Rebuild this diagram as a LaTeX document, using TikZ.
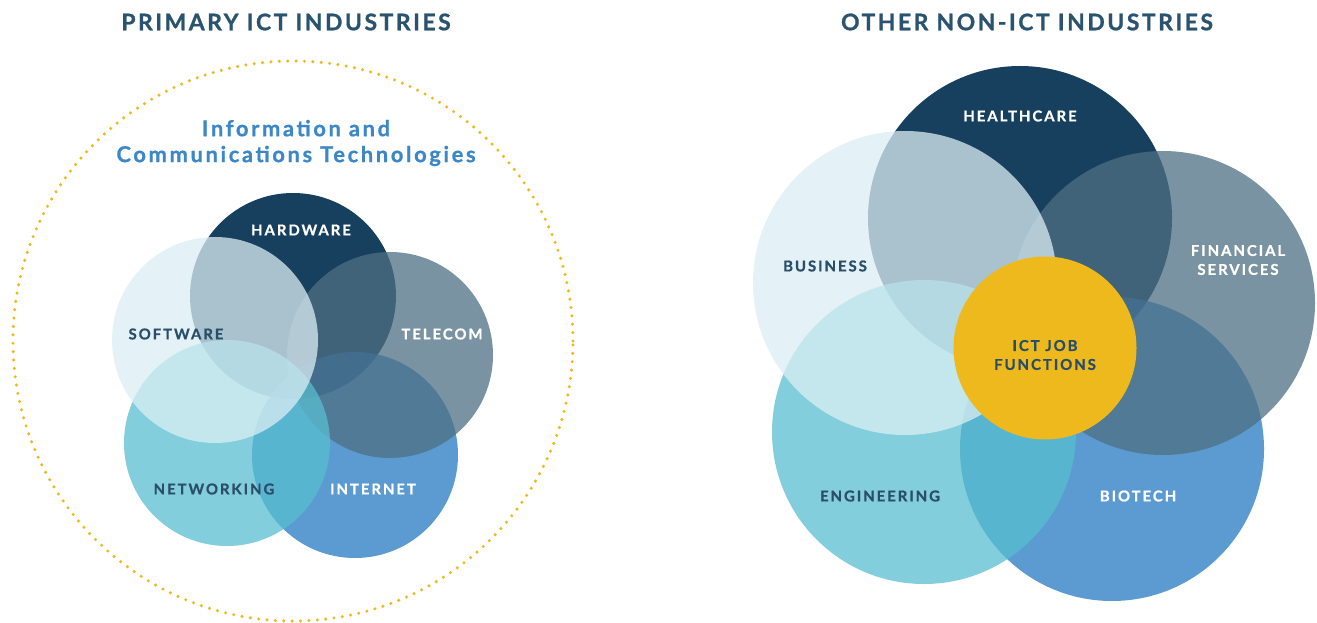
\documentclass[tikz,border=0pt]{standalone}
\usepackage{fontspec}
\setmainfont{Lato}
\newfontfamily\spaced[LetterSpace=13,FakeBold=0.8]{Lato}
\newfontfamily\widesp[LetterSpace=11,FakeBold=1]{Lato}
\newfontfamily\bluesp[LetterSpace=12,FakeBold=0.8]{Lato}
\definecolor{navy}{HTML}{17405E}
\definecolor{inetc}{HTML}{247AC3}
\definecolor{telc}{HTML}{4E6F83}
\definecolor{netc}{HTML}{58BED0}
\definecolor{lightc}{HTML}{DBEEF4}
\definecolor{goldc}{HTML}{EDB91C}
\definecolor{titlec}{HTML}{2A5370}
\definecolor{darklbl}{HTML}{2A4E69}
\definecolor{bluetxt}{HTML}{3B87C8}
\begin{document}
\begin{tikzpicture}[x=1bp,y=-1bp,
  venn/.style={circle, inner sep=0pt, minimum size=#1, fill opacity=0.75, draw=none},
  ttl/.style={font=\widesp\bfseries\fontsize{23}{26}\selectfont, text=titlec, inner sep=0pt},
  lblw/.style={font=\spaced\bfseries\fontsize{15}{19}\selectfont, text=white, inner sep=0pt, align=center},
  lbld/.style={font=\spaced\bfseries\fontsize{15}{19}\selectfont, text=darklbl, inner sep=0pt, align=center},
  blt/.style={font=\bluesp\bfseries\fontsize{22}{26}\selectfont, text=bluetxt, inner sep=0pt, align=center},
  ring/.style={draw=goldc, line width=3.4bp, line cap=round, dash pattern=on 0pt off 8.4bp}]
\useasboundingbox (0,0) rectangle (1317,623);
% titles
\node[ttl] (t1) at (286,22) {PRIMARY ICT INDUSTRIES};
\node[ttl] (t2) at (1027,22) {OTHER NON-ICT INDUSTRIES};
% left
\node[circle, minimum size=560bp, inner sep=0pt, ring] (ictring) at (293,341) {};
\node[blt] (ict) at (296,143) {Information and\\Communications Technologies};
\node[venn=206bp, fill=navy, fill opacity=1] (hw) at (293,296) {};
\node[venn=206bp, fill=inetc] (inet) at (355,455) {};
\node[venn=206bp, fill=telc] (tel) at (390,355) {};
\node[venn=206bp, fill=netc] (net) at (227,443) {};
\node[venn=206bp, fill=lightc] (sw) at (215,340) {};
\node[lblw] (hwl) at (301,230) {HARDWARE};
\node[lbld] (swl) at (176,334) {SOFTWARE};
\node[lblw] (tell) at (442,334) {TELECOM};
\node[lbld] (netl) at (214,489) {NETWORKING};
\node[lblw] (inetl) at (373,489) {INTERNET};
% right
\node[venn=304bp, fill=navy, fill opacity=1] (hc) at (1020,218) {};
\node[venn=304bp, fill=inetc] (bio) at (1112,449) {};
\node[venn=304bp, fill=telc] (fin) at (1163,303) {};
\node[venn=304bp, fill=netc] (eng) at (924,432) {};
\node[venn=304bp, fill=lightc] (bus) at (905,283) {};
\node[circle, inner sep=0pt, minimum size=183bp, fill=goldc] (job) at (1045,348) {};
\node[lblw] (hcl) at (1020,116) {HEALTHCARE};
\node[lbld] (busl) at (825,266) {BUSINESS};
\node[lblw] (finl) at (1238,260) {FINANCIAL\\SERVICES};
\node[lbld] (jobl) at (1045,355) {ICT JOB\\FUNCTIONS};
\node[lbld] (engl) at (880,496) {ENGINEERING};
\node[lblw] (biol) at (1138,496) {BIOTECH};
\end{tikzpicture}
\end{document}
